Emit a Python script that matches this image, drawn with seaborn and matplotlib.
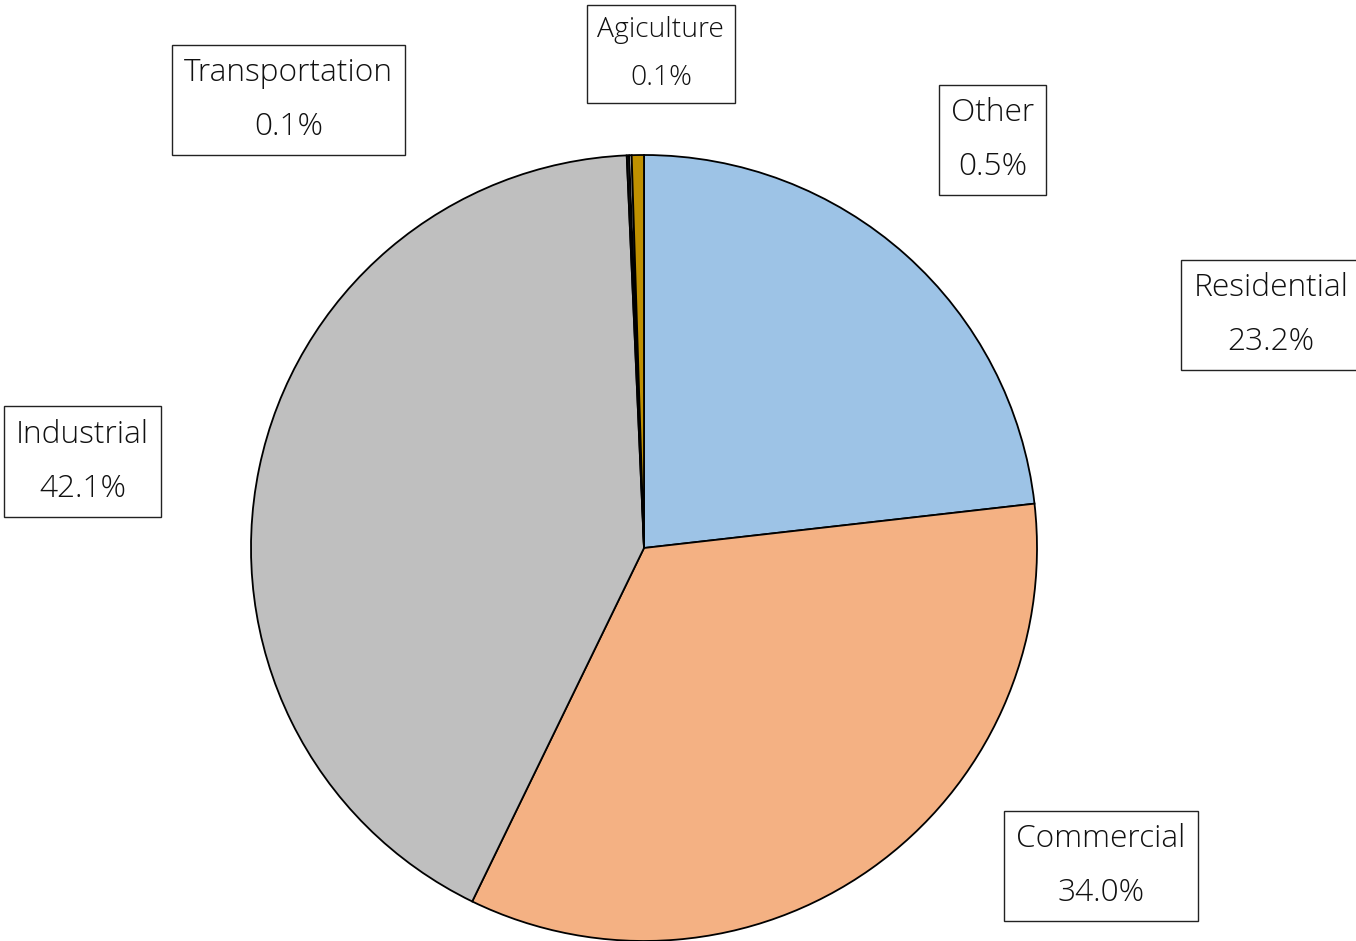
import matplotlib
matplotlib.use("Agg")
import matplotlib.pyplot as plt
import seaborn as sns

# Electricity consumption share by sector
sectors = ["Residential", "Commercial", "Industrial", "Transportation", "Agiculture", "Other"]
shares = [23.2, 34.0, 42.1, 0.1, 0.1, 0.5]
colors = ["#9DC3E6", "#F4B183", "#BFBFBF", "#222222", "#F2F2F2", "#BF9000"]

# label box centres (in units of the pie radius) and font sizes
label_pos = {
    "Residential": (1.595, 0.593),
    "Commercial": (1.163, -0.809),
    "Industrial": (-1.429, 0.219),
    "Transportation": (-0.905, 1.140),
    "Agiculture": (0.043, 1.257),
    "Other": (0.887, 1.038),
}
label_size = {"Agiculture": 20.3}

sns.set_theme(style="white")
plt.rcParams["font.family"] = ["Open Sans", "DejaVu Sans"]

W, H = 1356, 941
fig = plt.figure(figsize=(W / 100, H / 100), dpi=100)
cx, cy, r = 644, 548, 393
ax = fig.add_axes([(cx - r) / W, (H - cy - r) / H, 2 * r / W, 2 * r / H])

ax.pie(shares, colors=colors, startangle=90, counterclock=False, radius=1,
       wedgeprops=dict(edgecolor="black", linewidth=1.3))
ax.set_xlim(-1, 1)
ax.set_ylim(-1, 1)
ax.set_aspect("equal")
ax.axis("off")

for name, val in zip(sectors, shares):
    x, y = label_pos[name]
    ax.text(x, y, f"{name}\n{val:.1f}%", ha="center", va="center",
            fontsize=label_size.get(name, 22.8), fontweight="light",
            linespacing=1.95, color="#111111", clip_on=False,
            bbox=dict(boxstyle="square,pad=0.38", facecolor="white",
                      edgecolor="#222222", linewidth=1.0))

fig.savefig("out.png", dpi=100, facecolor="white")
